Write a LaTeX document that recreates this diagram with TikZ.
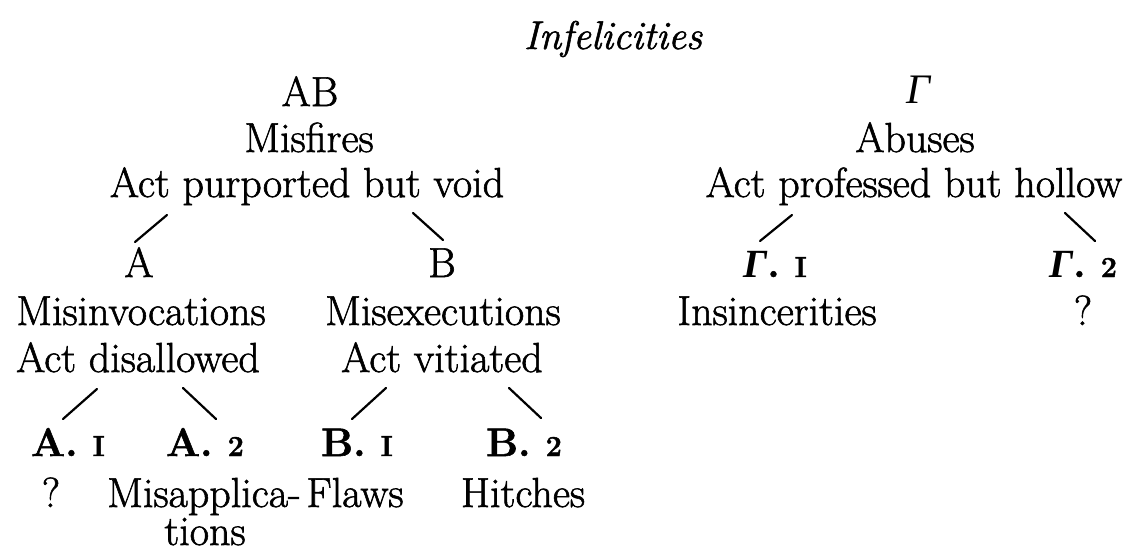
\documentclass[tikz,border=0pt]{standalone}
\usepackage{fontspec}
\setmainfont{Latin Modern Roman}[FakeBold=1.4]
\newfontfamily\grk{Liberation Serif}
\newcommand{\onum}[1]{{\fontsize{29}{29}\selectfont\bfseries #1}}
\newcommand{\Gam}{{\grk\itshape Γ}}
\begin{document}
\begin{tikzpicture}[x=1pt,y=-1pt,
  lbl/.style={inner sep=0pt,anchor=base,font=\fontsize{42}{46}\selectfont},
  sub/.style={inner sep=0pt,anchor=base,font=\fontsize{40}{46}\selectfont\bfseries},
  ital/.style={lbl,font=\fontsize{40}{46}\selectfont\itshape},
  br/.style={line width=2.2pt,line cap=round}]
\useasboundingbox (0,0) rectangle (1128,552);
\node[ital] (title) at (613,49) {Infelicities};
% left tree
\node[lbl] (ab) at (310,106) {AB};
\node[lbl] (misfires) at (309,152) {Misfires};
\node[lbl] (apv) at (307,197) {Act purported but void};
\node[lbl] (a) at (139,277) {A};
\node[lbl] (b) at (442,277) {B};
\node[lbl] (misinv) at (141,325) {Misinvocations};
\node[lbl] (actdis) at (138,372) {Act disallowed};
\node[lbl] (misexec) at (443,325) {Misexecutions};
\node[lbl] (actvit) at (442,372) {Act vitiated};
\node[sub] (a1) at (68,456) {A.\ \onum{I}};
\node[sub] (a2) at (205,456) {A.\ \onum{2}};
\node[sub] (b1) at (357,456) {B.\ \onum{I}};
\node[sub] (b2) at (524,456) {B.\ \onum{2}};
\node[lbl] (q1) at (51,507) {?};
\node[lbl,anchor=base east] (misapp) at (301,507) {Misapplica-};
\node[lbl] (tions) at (205,545) {tions};
\node[lbl] (flaws) at (355,507) {Flaws};
\node[lbl] (hitches) at (523,507) {Hitches};
% right tree
\node[lbl] (gam) at (918,103) {\Gam};
\node[lbl] (abuses) at (915,152) {Abuses};
\node[lbl] (apbh) at (914,197) {Act professed but hollow};
\node[sub] (g1) at (775,277) {\Gam.\ \onum{I}};
\node[sub] (g2) at (1083,277) {\Gam.\ \onum{2}};
\node[lbl] (insinc) at (777,325) {Insincerities};
\node[lbl] (q2) at (1083,325) {?};
% branch end points
\coordinate (l1a) at (167,215); \coordinate (l1b) at (135,242);
\coordinate (l2a) at (413,213); \coordinate (l2b) at (443,240);
\coordinate (l3a) at (97,389);  \coordinate (l3b) at (63,419);
\coordinate (l4a) at (183,388); \coordinate (l4b) at (216,419);
\coordinate (l5a) at (386,388); \coordinate (l5b) at (352,419);
\coordinate (l6a) at (509,388); \coordinate (l6b) at (541,418);
\coordinate (l7a) at (792,215); \coordinate (l7b) at (760,241);
\coordinate (l8a) at (1065,213); \coordinate (l8b) at (1095,241);
\draw[br] (l1a) -- (l1b);
\draw[br] (l2a) -- (l2b);
\draw[br] (l3a) -- (l3b);
\draw[br] (l4a) -- (l4b);
\draw[br] (l5a) -- (l5b);
\draw[br] (l6a) -- (l6b);
\draw[br] (l7a) -- (l7b);
\draw[br] (l8a) -- (l8b);
\end{tikzpicture}
\end{document}
